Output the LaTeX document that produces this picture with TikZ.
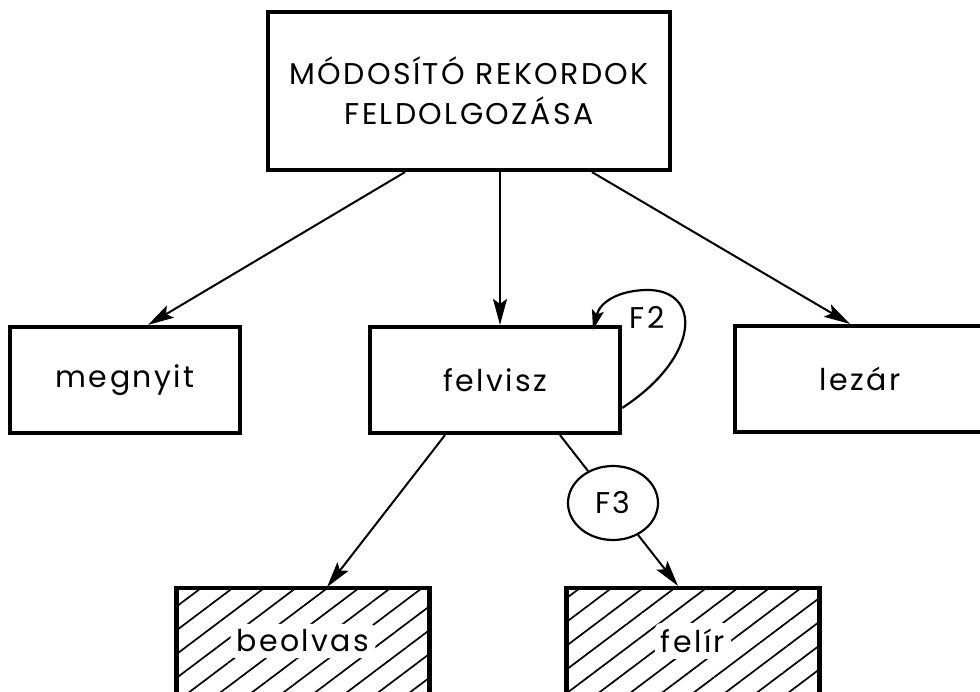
\documentclass[tikz,border=0pt]{standalone}
\usepackage{fontspec}
\setmainfont{Poppins}[LetterSpace=8]
\usetikzlibrary{arrows.meta,shapes.geometric,patterns.meta}

\tikzset{
  box/.style={draw, line width=4.2pt, fill=white, inner sep=0pt},
  hatched/.style={box, pattern={Lines[angle=37,distance=19pt,line width=1.7pt]}},
  label/.style={fill=white, inner sep=6pt, rounded corners=6pt},
  arr/.style={line width=2pt, -{Stealth[length=26pt,width=14pt,inset=5pt]}},
  plain/.style={line width=2pt}
}

\begin{document}
\begin{tikzpicture}[x=1pt,y=1pt,yscale=-1,xscale=1,font=\fontsize{30}{40}\selectfont]
\useasboundingbox (0,0) rectangle (980,692);
\clip (0,0) rectangle (980,692);

%Shape: Rectangle [top]
\node [box, minimum width=402pt, minimum height=158pt, align=center] (top) at (469,91)
  {MÓDOSÍTÓ REKORDOK\\FELDOLGOZÁSA};

%Shape: Rectangle [middle row]
\node [box, minimum width=230pt, minimum height=106pt] (megnyit) at (125,380) {megnyit};
\node [box, minimum width=250pt, minimum height=106pt] (felvisz) at (495,380) {felvisz};
\node [box, minimum width=250pt, minimum height=106pt] (lezar) at (860,379) {lezár};

%Shape: Rectangle [hatched, bottom row]
\node [hatched, minimum width=253pt, minimum height=106pt] (beolvas) at (303,641) {};
\node [hatched, minimum width=253pt, minimum height=106pt] (felir) at (693,641) {};

% Text Node
\node [label] (beolvas-txt) at (beolvas.center) {beolvas};
% Text Node
\node [label] (felir-txt) at (felir.center) {felír};

%Shape: Ellipse [F3]
\node [draw, ellipse, line width=2.2pt, minimum width=90pt, minimum height=74pt, inner sep=0pt] (F3) at (613,503) {F3};
% Text Node
\node (F2) at (647,317) {F2};

%Straight Lines
\draw [arr] ([xshift=-64pt]top.south) -- ([xshift=23pt]megnyit.north);
\draw [arr] ([xshift=31pt]top.south) -- ([xshift=5pt]felvisz.north);
\draw [arr] ([xshift=123pt]top.south) -- ([xshift=-10pt]lezar.north);
\draw [arr] ([xshift=-50pt]felvisz.south) -- ([xshift=24pt]beolvas.north);
\draw [plain] ([xshift=65pt]felvisz.south) -- (F3);
\draw [arr] (F3) -- ([xshift=-15pt]felir.north);

%Curve Lines [loop round F2]
\draw [line width=2.2pt, -{Stealth[length=20pt,width=12pt,inset=4pt]}]
  ([yshift=28pt]felvisz.east) .. controls (702,356) and (702,288) .. (645,290)
  .. controls (618,291) and (600,302) .. ([xshift=98pt,yshift=5pt]felvisz.north);

\end{tikzpicture}
\end{document}
